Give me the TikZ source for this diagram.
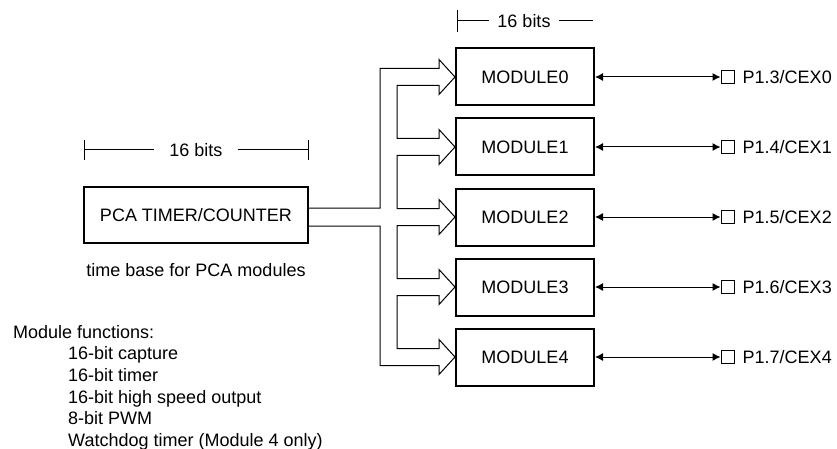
\documentclass[tikz,border=0pt]{standalone}
\usepackage{fontspec}
\setmainfont{Liberation Sans}
\usetikzlibrary{arrows.meta,positioning,calc}

\tikzset{
  modbox/.style={draw, line width=2pt, minimum width=138pt, minimum height=57pt, inner sep=0pt},
  pinbox/.style={draw, line width=1pt, minimum size=13pt, inner sep=0pt},
  bus/.style={line width=1pt, line join=miter},
  dimline/.style={line width=1pt},
  pinarrow/.style={line width=1pt, {Latex[length=8pt,width=8pt]}-{Latex[length=8pt,width=8pt]}},
}

\begin{document}
\begin{tikzpicture}[x=1pt,y=-1pt,font=\fontsize{18}{21.6}\selectfont]
  \useasboundingbox (0,0) rectangle (837,449);

  % PCA timer/counter and its text
  \node[modbox, minimum width=224pt, minimum height=56pt] (pca) at (196,215) {PCA TIMER/COUNTER};
  \node[below=19pt of pca, inner sep=0pt] (base) {time base for PCA modules};

  % Draw 16 bits headline over PCA box
  \node[inner xsep=15pt, inner ysep=0pt] (bitsl) at (196,150) {16 bits};
  \draw[dimline] (84,140) -- (84,160);
  \draw[dimline] (84,150) -- (bitsl.west);
  \draw[dimline] (bitsl.east) -- (308,150);
  \draw[dimline] (308,140) -- (308,160);

  % Draw modules, pins and pin arrows
  \foreach \i/\c/\p in {0/77/3,1/147/4,2/217/5,3/287/6,4/357/7}{
    \node[modbox] (m\i) at (525,\c) {MODULE\i};
    \node[pinbox] (p\i) at (727.5,\c) {};
    \node[right=8pt of p\i, inner sep=0pt] (l\i) {P1.\p/CEX\i};
    \draw[pinarrow] (m\i) -- (p\i);
  }

  % Draw 16 bits headline over modules
  \node[inner xsep=8.5pt, inner ysep=0pt] (bitst) at (524,21) {16 bits};
  \draw[dimline] (457,10) -- (457,32);
  \draw[dimline] (457,21) -- (bitst.west);
  \draw[dimline] (bitst.east) -- (593,21);

  % Draw hollow bus from PCA to the modules
  \draw[bus] ($(pca.east)+(0,-7)$) -- (380,208) -- (380,68.5)
    \foreach \i/\c in {0/77,1/147,2/217,3/287}{
      -- (439,\c-8.5) -- (439,\c-17.5) -- (m\i.west) -- (439,\c+17.5)
      -- (439,\c+8.5) -- (397,\c+8.5) -- (397,\c+61.5)
    }
    -- (439,348.5) -- (439,339.5) -- (m4.west) -- (439,374.5)
    -- (439,365.5) -- (380,365.5) -- (380,226) -- ($(pca.east)+(0,11)$);

  % Module functions list
  \node[anchor=north west, inner sep=0pt, align=left] (func) at (13,325)
    {Module functions:\\
     \hspace*{55pt}16-bit capture\\
     \hspace*{55pt}16-bit timer\\
     \hspace*{55pt}16-bit high speed output\\
     \hspace*{55pt}8-bit PWM\\
     \hspace*{55pt}Watchdog timer (Module 4 only)};
\end{tikzpicture}
\end{document}
